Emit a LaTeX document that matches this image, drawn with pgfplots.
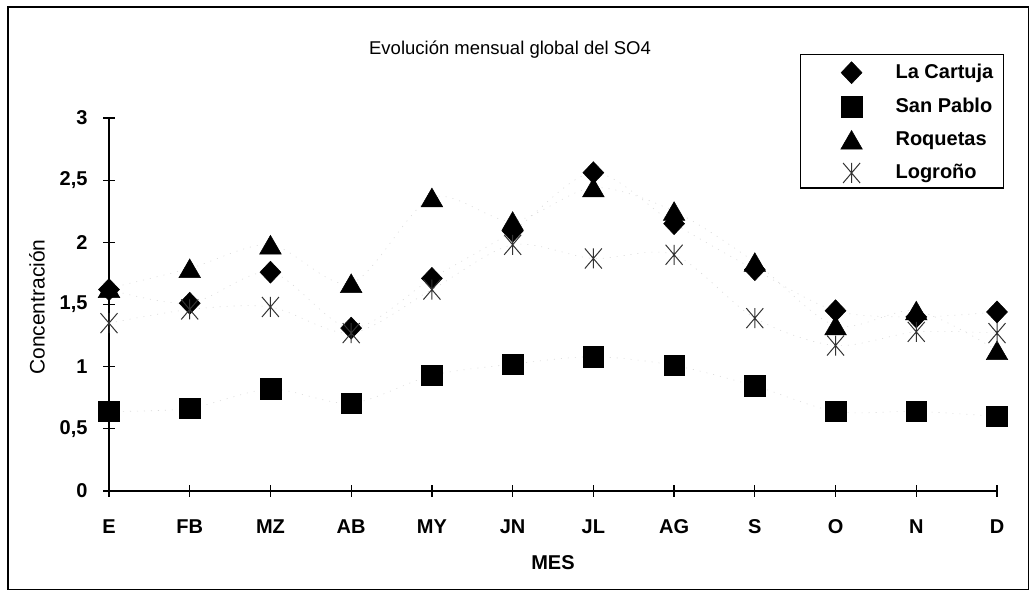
\documentclass[border=0pt]{standalone}
\usepackage{fontspec}
\setmainfont{Liberation Sans}
\usepackage{pgfplots}
\pgfplotsset{compat=1.18}
\pgfdeclareplotmark{xstar}{%
  \pgfpathmoveto{\pgfqpoint{-0.85\pgfplotmarksize}{-\pgfplotmarksize}}%
  \pgfpathlineto{\pgfqpoint{0.85\pgfplotmarksize}{\pgfplotmarksize}}%
  \pgfpathmoveto{\pgfqpoint{-0.85\pgfplotmarksize}{\pgfplotmarksize}}%
  \pgfpathlineto{\pgfqpoint{0.85\pgfplotmarksize}{-\pgfplotmarksize}}%
  \pgfpathmoveto{\pgfqpoint{0pt}{-\pgfplotmarksize}}%
  \pgfpathlineto{\pgfqpoint{0pt}{\pgfplotmarksize}}%
  \pgfusepathqstroke}
\begin{document}
\begin{tikzpicture}[x=1pt,y=1pt]
\draw[line width=1.6pt] (8,1.5) rectangle (1028.5,584);
\begin{axis}[
  at={(109pt,100pt)}, anchor=south west,
  scale only axis, width=888pt, height=373pt,
  xmin=0, xmax=11, ymin=0, ymax=3,
  clip=false,
  axis lines=left, axis line style={line width=1.6pt, -},
  xtick={0,...,11}, xticklabels={E,FB,MZ,AB,MY,JN,JL,AG,S,O,N,D},
  ytick={0,0.5,1,1.5,2,2.5,3},
  tick align=center, major tick length=12pt,
  tick style={line width=1.3pt, black},
  /pgf/number format/assume math mode=true,
  /pgf/number format/use comma,
  yticklabel style={font=\fontsize{20}{22}\selectfont\bfseries, xshift=-12pt},
  xticklabel style={font=\fontsize{20}{24}\selectfont\bfseries, yshift=-19pt},
  title={Evolución mensual global del SO4},
  title style={at={(axis description cs:0.4516,1.1528)}, anchor=base, font=\fontsize{18.5}{22}\selectfont},
  xlabel={MES},
  every axis x label/.style={at={(axis description cs:0.5,-0.1917)}, anchor=center, font=\fontsize{20}{24}\selectfont\bfseries},
  ylabel={Concentración},
  every axis y label/.style={at={(axis description cs:-0.081,0.493)}, rotate=90, anchor=center, font=\fontsize{21}{24}\selectfont},
  legend style={at={(axis description cs:0.778,1.1716)}, anchor=north west, draw=black, line width=1.4pt,
    font=\fontsize{20}{24}\selectfont\bfseries, row sep=10pt, inner xsep=8pt, inner ysep=5pt,
    nodes={inner ysep=0pt, text height=14pt, text depth=4pt}},
  legend cell align=left,
  legend image code/.code={\path[draw=none,fill=none] (-43pt,0pt) rectangle (42pt,14pt); \draw[#1] plot coordinates {(0pt,1pt)};},
]
% faint connecting lines
\addplot[forget plot, smooth, gray!30, line width=0.6pt, dash pattern=on 1pt off 6pt] coordinates {(0,1.62)(1,1.51)(2,1.76)(3,1.31)(4,1.71)(5,2.09)(6,2.56)(7,2.15)(8,1.78)(9,1.45)(10,1.40)(11,1.44)};
\addplot[forget plot, smooth, gray!30, line width=0.6pt, dash pattern=on 1pt off 6pt] coordinates {(0,0.64)(1,0.665)(2,0.82)(3,0.705)(4,0.93)(5,1.02)(6,1.08)(7,1.01)(8,0.845)(9,0.64)(10,0.64)(11,0.60)};
\addplot[forget plot, smooth, gray!30, line width=0.6pt, dash pattern=on 1pt off 6pt] coordinates {(0,1.63)(1,1.79)(2,1.98)(3,1.67)(4,2.36)(5,2.17)(6,2.44)(7,2.25)(8,1.84)(9,1.33)(10,1.45)(11,1.13)};
\addplot[forget plot, smooth, gray!30, line width=0.6pt, dash pattern=on 1pt off 6pt] coordinates {(0,1.35)(1,1.46)(2,1.48)(3,1.27)(4,1.62)(5,1.98)(6,1.87)(7,1.90)(8,1.39)(9,1.17)(10,1.28)(11,1.27)};
% markers
\addplot[only marks, black, mark=diamond*, mark size=11pt, mark options={xscale=1.27, line width=0.5pt}] coordinates {(0,1.62)(1,1.51)(2,1.76)(3,1.31)(4,1.71)(5,2.09)(6,2.56)(7,2.15)(8,1.78)(9,1.45)(10,1.40)(11,1.44)};
\addlegendentry{La Cartuja}
\addplot[only marks, black, mark=square*, mark size=10.3pt, mark options={line width=0.5pt}] coordinates {(0,0.64)(1,0.665)(2,0.82)(3,0.705)(4,0.93)(5,1.02)(6,1.08)(7,1.01)(8,0.845)(9,0.64)(10,0.64)(11,0.60)};
\addlegendentry{San Pablo}
\addplot[only marks, black, mark=triangle*, mark size=12.5pt, mark options={yshift=-3pt, line width=0.5pt}] coordinates {(0,1.63)(1,1.79)(2,1.98)(3,1.67)(4,2.36)(5,2.17)(6,2.44)(7,2.25)(8,1.84)(9,1.33)(10,1.45)(11,1.13)};
\addlegendentry{Roquetas}
\addplot[only marks, black!80, mark=xstar, mark size=10pt, mark options={line width=1pt}] coordinates {(0,1.35)(1,1.46)(2,1.48)(3,1.27)(4,1.62)(5,1.98)(6,1.87)(7,1.90)(8,1.39)(9,1.17)(10,1.28)(11,1.27)};
\addlegendentry{Logroño}
\end{axis}
\pgfresetboundingbox
\path[use as bounding box] (0,0) rectangle (1030,591);
\end{tikzpicture}
\end{document}
